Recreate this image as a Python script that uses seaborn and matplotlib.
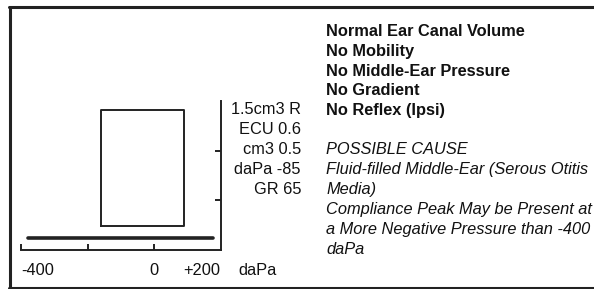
import matplotlib
matplotlib.use("Agg")
import matplotlib.pyplot as plt
import seaborn as sns
import pandas as pd
from matplotlib.lines import Line2D

sns.set_style("white")
plt.rcParams['font.family'] = ['Liberation Sans', 'DejaVu Sans']

# ---- data ----
x_ticks = [-400, -200, 0]
y_ticks = [0.5, 1.0]
x_tick_labels = ["-400", "0", "+200"]
x_tick_label_pos = [-400, 0, 200]
x_unit = "daPa"
box_x = [-160, 90]
box_y = [0.24, 1.41]
base_x = [-380, 178]
base_y = 0.12
readings = ["1.5cm3 R", "ECU 0.6", "cm3 0.5", "daPa -85", "GR 65"]
findings = ["Normal Ear Canal Volume", "No Mobility", "No Middle-Ear Pressure",
            "No Gradient", "No Reflex (Ipsi)"]
cause = ["POSSIBLE CAUSE", "Fluid-filled Middle-Ear (Serous Otitis", "Media)",
         "Compliance Peak May be Present at", "a More Negative Pressure than -400", "daPa"]

W, H = 594, 289
fig = plt.figure(figsize=(W / 100, H / 100), dpi=100)

ax_left, ax_right = 21, 220.5
ax_top, ax_bot = 101, 250
ax = fig.add_axes([ax_left / W, 1 - ax_bot / H, (ax_right - ax_left) / W, (ax_bot - ax_top) / H])
ax.set_xlim(-400, 200)
ax.set_ylim(0, 1.5)
ax.patch.set_alpha(0)

lc = "#222222"
box_df = pd.DataFrame({
    "x": [box_x[0], box_x[1], box_x[1], box_x[0], box_x[0]],
    "y": [box_y[0], box_y[0], box_y[1], box_y[1], box_y[0]],
})
sns.lineplot(data=box_df, x="x", y="y", sort=False, estimator=None, color=lc, lw=1.4, ax=ax)
base_df = pd.DataFrame({"x": base_x, "y": [base_y, base_y]})
sns.lineplot(data=base_df, x="x", y="y", sort=False, estimator=None, color=lc, lw=2.6, ax=ax)

for s in ["left", "top"]:
    ax.spines[s].set_visible(False)
for s in ["right", "bottom"]:
    ax.spines[s].set_visible(True)
    ax.spines[s].set_color(lc)
    ax.spines[s].set_linewidth(1.4)
ax.set_xticks(x_ticks)
ax.set_yticks(y_ticks)
ax.yaxis.tick_right()
ax.tick_params(axis="x", direction="in", length=4, width=1.4, color=lc, labelbottom=False, bottom=True)
ax.tick_params(axis="y", direction="in", length=4, width=1.4, color=lc, labelright=False, right=True, left=False)
ax.set_xlabel("")
ax.set_ylabel("")

fs = 11.8
tc = "#111111"
label_y = 1 - 270.5 / H
for lab, pos in zip(x_tick_labels, x_tick_label_pos):
    ha = "left" if pos == -400 else ("right" if pos == 200 else "center")
    xf = (ax_left + (pos + 400) / 600 * (ax_right - ax_left)) / W
    fig.text(xf, label_y, lab, ha=ha, va="center", fontsize=fs, color=tc)
fig.text(238 / W, label_y, x_unit, ha="left", va="center", fontsize=fs, color=tc)

for i, r in enumerate(readings):
    fig.text(301 / W, 1 - (109.5 + 20 * i) / H, r, ha="right", va="center", fontsize=fs, color=tc)

for i, f in enumerate(findings):
    fig.text(326 / W, 1 - (32 + 19.6 * i) / H, f, ha="left", va="center", fontsize=fs,
             fontweight="bold", color=tc)
for i, c in enumerate(cause):
    fig.text(326 / W, 1 - (149.5 + 20 * i) / H, c, ha="left", va="center", fontsize=fs,
             fontstyle="italic", color=tc)

# outer frame (left, top, bottom)
fig.add_artist(Line2D([10 / W, 10 / W], [1 - 7 / H, 1 - 288 / H], transform=fig.transFigure, color=lc, lw=2.2))
fig.add_artist(Line2D([9 / W, 1.0], [1 - 7 / H, 1 - 7 / H], transform=fig.transFigure, color=lc, lw=2.2))
fig.add_artist(Line2D([9 / W, 1.0], [1 - 288 / H, 1 - 288 / H], transform=fig.transFigure, color=lc, lw=2.2))

fig.savefig("out.png", dpi=100, facecolor="white")
